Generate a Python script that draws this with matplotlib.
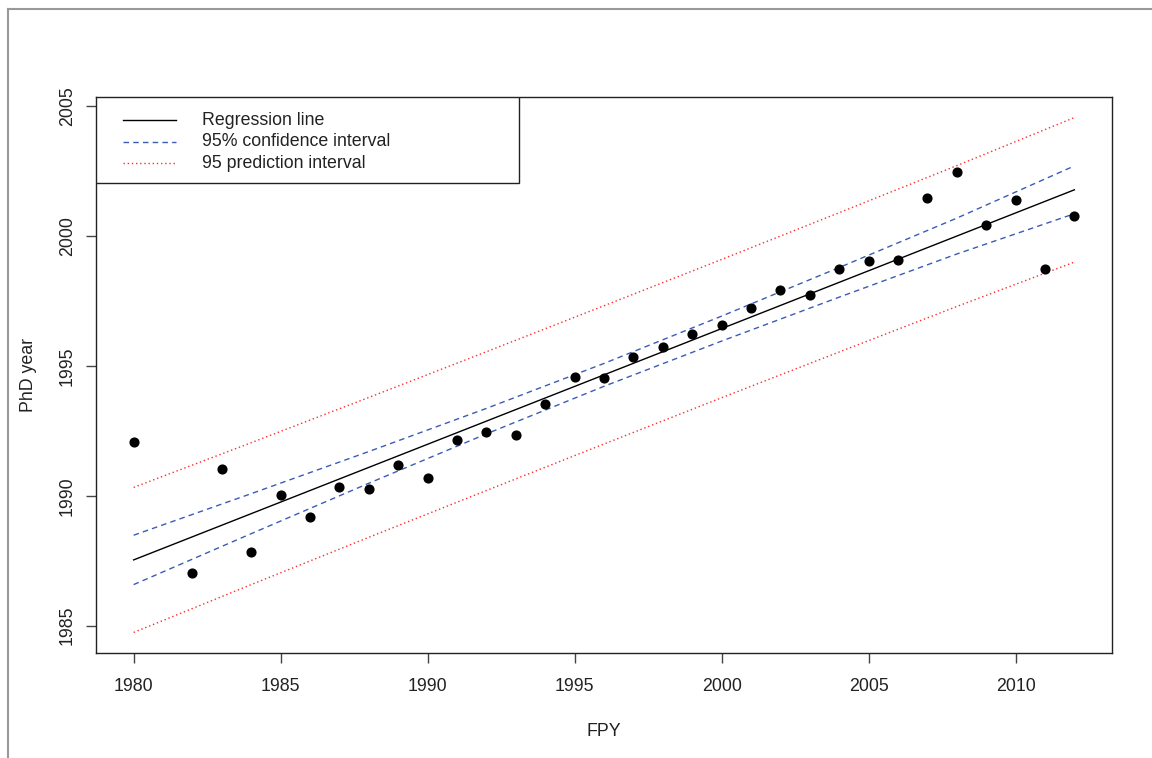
import matplotlib
matplotlib.use("Agg")
import matplotlib.pyplot as plt
from matplotlib.lines import Line2D
from matplotlib.patches import Rectangle

plt.rcParams['font.family'] = ['Liberation Sans', 'DejaVu Sans']

# observed points (FPY, PhD year)
fpy = [1980, 1982, 1983, 1984, 1985, 1986, 1987, 1988, 1989, 1990, 1991,
       1992, 1993, 1994, 1995, 1996, 1997, 1998, 1999, 2000, 2001, 2002,
       2003, 2004, 2005, 2006, 2007, 2008, 2009, 2010, 2011, 2012]
phd = [1992.05, 1987.03, 1991.03, 1987.84, 1990.02, 1989.2, 1990.33, 1990.25,
       1991.17, 1990.7, 1992.13, 1992.47, 1992.32, 1993.54, 1994.58, 1994.54,
       1995.34, 1995.73, 1996.23, 1996.57, 1997.22, 1997.91, 1997.72, 1998.72,
       1999.02, 1999.06, 2001.44, 2002.47, 2000.40, 2001.36, 1998.72, 2000.75]

# fitted line and intervals
grid_x = [1980, 1984, 1988, 1992, 1996, 2000, 2004, 2008, 2012]
fit = [1987.53, 1989.31, 1991.09, 1992.87, 1994.65, 1996.43, 1998.21, 1999.99, 2001.77]
ci_upr = [1988.48, 1990.08, 1991.70, 1993.36, 1995.09, 1996.91, 1998.78, 2000.68, 2002.69]
ci_lwr = [1986.58, 1988.54, 1990.48, 1992.38, 1994.21, 1995.95, 1997.64, 1999.30, 2000.85]
pi_upr = [1990.32, 1992.04, 1993.78, 1995.54, 1997.31, 1999.09, 2000.89, 2002.70, 2004.55]
pi_lwr = [1984.74, 1986.58, 1988.40, 1990.20, 1991.99, 1993.77, 1995.53, 1997.28, 1998.99]

xticks = [1980, 1985, 1990, 1995, 2000, 2005, 2010]
yticks = [1985, 1990, 1995, 2000, 2005]
labels = ['Regression line', '95% confidence interval', '95 prediction interval']

blue = '#3a5cb5'
red = '#ff2a2a'
fs = 12.8

fig = plt.figure(figsize=(11.52, 7.58), dpi=100)
ax = fig.add_axes([96 / 1152, 1 - 652.7 / 758, 1016 / 1152, 555.4 / 758])

ax.plot(fpy, phd, 'o', color='black', markersize=6.3, zorder=5)
ax.plot(grid_x, fit, color='black', lw=1.0)
ax.plot(grid_x, ci_upr, color=blue, lw=1.0, dashes=(4, 3))
ax.plot(grid_x, ci_lwr, color=blue, lw=1.0, dashes=(4, 3))
ax.plot(grid_x, pi_upr, color=red, lw=1.0, dashes=(1, 2))
ax.plot(grid_x, pi_lwr, color=red, lw=1.0, dashes=(1, 2))

ax.set_xlim(1978.72, 2013.28)
ax.set_ylim(1983.96, 2005.33)
ax.set_xticks(xticks)
ax.set_yticks(yticks)
ax.set_xticklabels([str(v) for v in xticks], fontsize=fs, color='#222222')
ax.set_yticklabels([str(v) for v in yticks], fontsize=fs, color='#222222',
                   rotation=90, va='center')
ax.tick_params(axis='x', length=7.5, width=1.0, color='#444444', pad=11)
ax.tick_params(axis='y', length=7.5, width=1.0, color='#444444', pad=7)
for s in ax.spines.values():
    s.set_linewidth(1.0)
    s.set_color('#222222')

ax.set_xlabel('FPY', fontsize=fs, color='#222222', labelpad=20)
ax.set_ylabel('PhD year', fontsize=fs, color='#222222', labelpad=16)

# legend box drawn in the R way
ax_w, ax_h = 1016.0, 555.4
ax.add_patch(Rectangle((0, 1 - 86 / ax_h), 423 / ax_w, 86 / ax_h,
                       transform=ax.transAxes, facecolor='white',
                       edgecolor='#222222', lw=1.0, zorder=6))
styles = [dict(color='black'), dict(color=blue, dashes=(4, 3)),
          dict(color=red, dashes=(1, 2))]
rows = [120, 141.5, 163]
for lab, st, r in zip(labels, styles, rows):
    yy = 1 - (r - 97.3) / ax_h
    ax.add_line(Line2D([26.7 / ax_w, 79.7 / ax_w], [yy, yy], lw=1.0,
                       transform=ax.transAxes, zorder=7, **st))
    ax.text(106 / ax_w, yy, lab, transform=ax.transAxes, fontsize=fs,
            color='#222222', va='center', ha='left', zorder=7)

# window frame edges
fig.add_artist(Line2D([7.5 / 1152, 7.5 / 1152], [0, 1 - 9 / 758],
                      transform=fig.transFigure, color='#999999', lw=1.5))
fig.add_artist(Line2D([7.5 / 1152, 1], [1 - 9 / 758, 1 - 9 / 758],
                      transform=fig.transFigure, color='#999999', lw=1.5))

fig.savefig('out.png', dpi=100)
